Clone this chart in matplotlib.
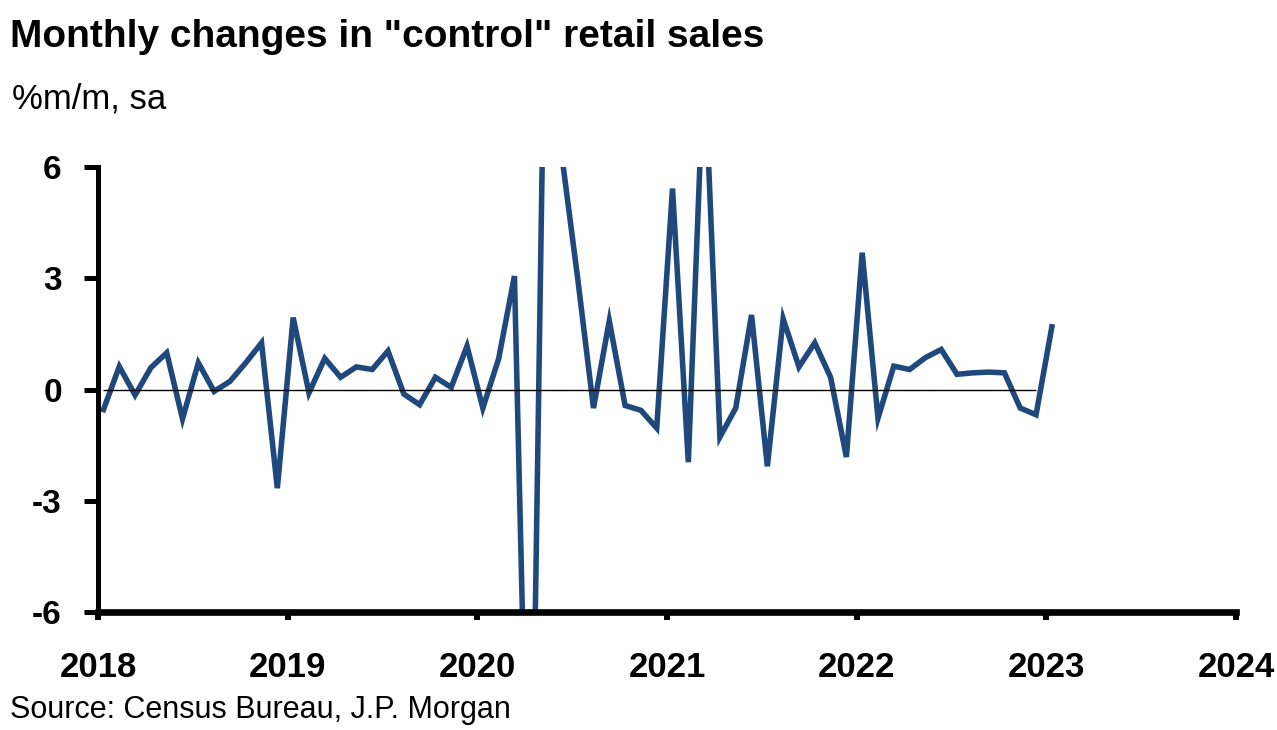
import numpy as np
import matplotlib
matplotlib.use("Agg")
import matplotlib.pyplot as plt

# DATA (%m/m sa, Jan 2018 .. Jan 2023)
start_year = 2018
values = [
    # 2018
    -0.54, 0.62, -0.15, 0.59, 0.99, -0.79, 0.72, -0.05, 0.22, 0.72, 1.26, -2.66,
    # 2019
    1.94, -0.09, 0.84, 0.33, 0.61, 0.54, 1.04, -0.12, -0.41, 0.33, 0.06, 1.17,
    # 2020
    -0.50, 0.83, 3.06, -15.0, 13.0, 6.3, 3.0, -0.50, 1.85, -0.43, -0.56, -1.04,
    # 2021
    5.42, -1.96, 9.0, -1.28, -0.50, 2.01, -2.07, 1.91, 0.61, 1.26, 0.33, -1.82,
    # 2022
    3.69, -0.77, 0.63, 0.54, 0.86, 1.08, 0.41, 0.45, 0.47, 0.45, -0.50, -0.68,
    # 2023
    1.69,
]
year_ticks = [2018, 2019, 2020, 2021, 2022, 2023, 2024]
y_ticks = [-6, -3, 0, 3, 6]

title = 'Monthly changes in "control" retail sales'
subtitle = "%m/m, sa"
source = "Source: Census Bureau, J.P. Morgan"

# month positions as fractional years
x = start_year + (np.arange(len(values)) + 0.35) / 12

plt.rcParams["font.family"] = ["Liberation Sans Narrow", "Liberation Sans", "DejaVu Sans"]

fig = plt.figure(figsize=(12.77, 7.3), dpi=100)
ax = fig.add_axes([0.0767, 0.1616, 0.8912, 0.6096])

ax.plot(x, values, color="#1F497D", lw=4, solid_joinstyle="miter")
ax.hlines(0, x[0], x[-2], color="black", lw=1)

ax.set_xlim(2018, 2024)
ax.set_ylim(-6, 6)
ax.set_xticks(year_ticks)
ax.set_xticklabels([str(y) for y in year_ticks])
ax.set_yticks(y_ticks)
ax.set_yticklabels([str(v) for v in y_ticks])

for s in ["top", "right"]:
    ax.spines[s].set_visible(False)
ax.spines["left"].set_linewidth(3.6)
ax.spines["bottom"].set_linewidth(4.8)
ax.spines["left"].set_capstyle("projecting")
ax.spines["bottom"].set_capstyle("projecting")

ax.tick_params(axis="x", direction="out", length=6, width=4.3, pad=22, labelsize=25)
ax.tick_params(axis="y", direction="out", length=10, width=3.6, pad=16, labelsize=24)
for lab in ax.get_xticklabels() + ax.get_yticklabels():
    lab.set_fontweight("bold")

fig.text(0.0078, 0.9356, title, fontsize=28, fontweight="bold", va="baseline", ha="left")
fig.text(0.0094, 0.852, subtitle, fontsize=25, va="baseline", ha="left")
fig.text(0.0078, 0.0164, source, fontsize=22, va="baseline", ha="left")

fig.savefig("out.png", dpi=100)
